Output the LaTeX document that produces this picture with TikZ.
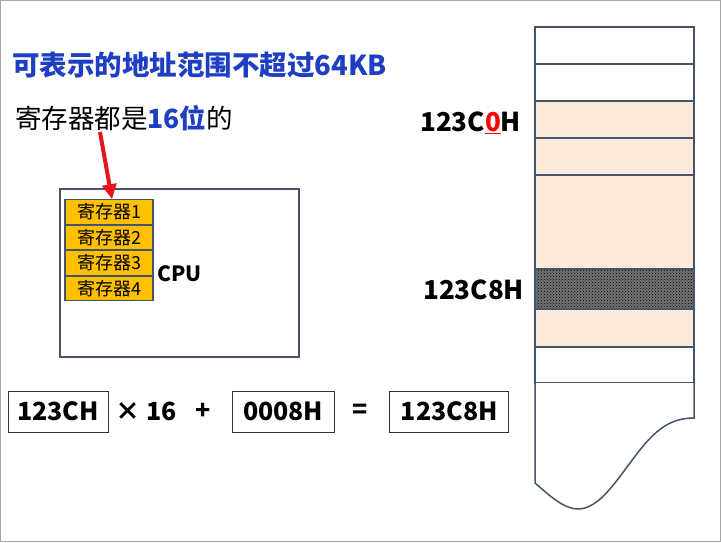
\documentclass[tikz,border=0pt]{standalone}
\usepackage{fontspec}
\setmainfont{Noto Sans CJK SC}
\usetikzlibrary{positioning,calc,arrows.meta,patterns}
\definecolor{slateline}{HTML}{44546A}
\definecolor{titleblue}{HTML}{1F3FC2}
\definecolor{regfill}{HTML}{FFC000}
\definecolor{peach}{HTML}{FDEADA}
\definecolor{arrowred}{HTML}{E8141B}

\begin{document}
\begin{tikzpicture}[x=1pt,y=-1pt,txt/.style={inner sep=0pt,anchor=west},reg/.style={draw=slateline,line width=1.2pt,fill=regfill,minimum width=88pt,minimum height=24.3pt,inner sep=0pt,font=\fontsize{18}{18}\selectfont},eqbox/.style={draw=black!80,line width=1pt,minimum height=41pt,inner sep=0pt,font=\bfseries\fontsize{25}{25}\selectfont},eqop/.style={inner sep=0pt,font=\bfseries\fontsize{25}{25}\selectfont},memcell/.style={draw=slateline,line width=1.8pt},addr/.style={inner sep=0pt,anchor=west,font=\bfseries\fontsize{26}{26}\selectfont}]
    \useasboundingbox (0,0) rectangle (721,542);
    \draw[black!35,line width=1pt] (0.5,0.5) rectangle (720.5,541.5);
    % texts at the top
    \node[txt,text=titleblue,font=\bfseries\fontsize{27.5}{27.5}\selectfont] (title) at (12,65) {可表示的地址范围不超过64KB};
    \node[txt,font=\fontsize{26.5}{26.5}\selectfont] (bits) at (15,118) {寄存器都是{\color{titleblue}\bfseries 16位}的};
    % cpu with its registers
    \node[draw=slateline,line width=1.6pt,minimum width=239pt,minimum height=168pt] (cpu) at (179.5,273) {};
    \node[reg] (reg1) at (109,212) {寄存器1};
    \node[reg,below=0pt of reg1] (reg2) {寄存器2};
    \node[reg,below=0pt of reg2] (reg3) {寄存器3};
    \node[reg,below=0pt of reg3] (reg4) {寄存器4};
    \node[txt,font=\bfseries\fontsize{21}{21}\selectfont] (cpulabel) at (157,273.5) {CPU};
    \coordinate (arrowtail) at (100,132);
    \draw[-{Triangle[length=15pt,width=14pt]},arrowred,line width=4pt] (arrowtail)--($(reg1.north)+(3,0)$);
    % address calculation
    \node[eqbox,minimum width=100pt] (seg) at (58,411.5) {123CH};
    \node[eqop,right=7pt of seg] (times) {× 16};
    \node[eqop,right=18pt of times] (plus) {+};
    \node[eqbox,minimum width=102pt,right=21pt of plus] (off) {0008H};
    \node[eqop,right=18pt of off] (eq) {=};
    \node[eqbox,minimum width=119pt,right=21pt of eq] (phys) {123C8H};
    % memory
    \foreach \ya/\yb/\cl in {27/64/white,64/101/white,101/138/peach,138/175/peach,175/269/peach,309/347/peach,347/383/white}
      \draw[memcell,fill=\cl] (535,\ya) rectangle (694,\yb);
    \fill[black!55] (535,269) rectangle (694,309);
    \fill[pattern=crosshatch dots,pattern color=black] (535,269) rectangle (694,309);
    \draw[memcell] (535,269) rectangle (694,309);
    \draw[memcell,line width=1.5pt,fill=white] (535,383)--(535,483) .. controls (552,498) and (565,509) .. (578,509) .. controls (600,509) and (618,478) .. (636,455) .. controls (655,430) and (670,418) .. (694,418)--(694,383);
    \node[addr] (addr0) at (420,123) {123C{\color{red}\underline{0}}H};
    \node[addr] (addr8) at (423,290) {123C8H};
  \end{tikzpicture}
\end{document}
